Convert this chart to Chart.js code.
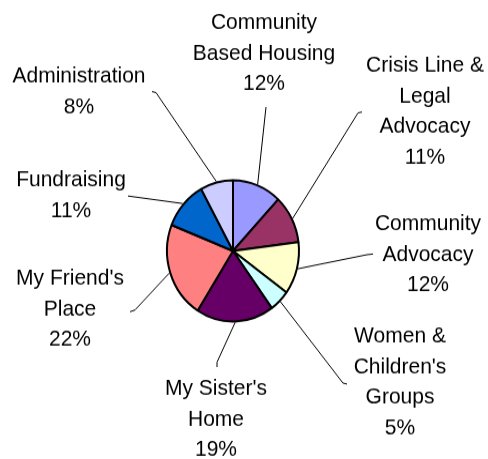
<!DOCTYPE html>
<html>
<head>
<meta charset="utf-8">
<script src="https://cdn.jsdelivr.net/npm/chart.js@4"></script>
<style>
  html, body { margin: 0; padding: 0; background: #fff; }
  #wrap { width: 488px; height: 459px; overflow: hidden; }
  #c { display: block; transform: scaleY(1.07); transform-origin: 0 0; }
</style>
</head>
<body>
<div id="wrap"><canvas id="c" width="488" height="429"></canvas></div>
<script>
// ---- data ----
const categories = [
  "Community Based Housing",
  "Crisis Line & Legal Advocacy",
  "Community Advocacy",
  "Women & Children's Groups",
  "My Sister's Home",
  "My Friend's Place",
  "Fundraising",
  "Administration"
];
const labelLines = [
  ["Community", "Based Housing"],
  ["Crisis Line &", "Legal", "Advocacy"],
  ["Community", "Advocacy"],
  ["Women &", "Children's", "Groups"],
  ["My Sister's", "Home"],
  ["My Friend's", "Place"],
  ["Fundraising"],
  ["Administration"]
];
const values = [12, 11, 12, 5, 19, 22, 11, 8];
const colors = ["#9999FF", "#993366", "#FFFFCC", "#CCFFFF", "#660066", "#FF8080", "#0066CC", "#CCCCFF"];

// ---- label layout (chart-space): text centre x, first baseline, leader-line end points ----
const labelLayout = [
  { x: 264, y: 27,  leader: [[266, 100]] },
  { x: 425, y: 67,  leader: [[358, 105.5], [362, 104.7]] },
  { x: 428, y: 215, leader: [[367, 238], [373, 237.4]] },
  { x: 400, y: 320, leader: [[343, 358], [347, 358.9]] },
  { x: 216, y: 369, leader: [[217, 338.5], [217, 343]] },
  { x: 70,  y: 266, leader: [[135, 289.7], [130, 291.3]] },
  { x: 71,  y: 174, leader: [[128, 183.2]] },
  { x: 79,  y: 77,  leader: [[156, 86.5], [152, 85.6]] }
];
const LINE_H = 28.5;
const FONT = '21px "Liberation Sans", Arial, Helvetica, sans-serif';

const labelPlugin = {
  id: 'outLabels',
  afterDatasetsDraw(chart) {
    const ctx = chart.ctx;
    const meta = chart.getDatasetMeta(0);
    const total = values.reduce((a, b) => a + b, 0);
    ctx.save();
    ctx.strokeStyle = '#000';
    ctx.lineWidth = 1;
    meta.data.forEach((arc, i) => {
      const p = arc.getProps(['x', 'y', 'startAngle', 'endAngle', 'outerRadius'], true);
      const mid = (p.startAngle + p.endAngle) / 2;
      const r = p.outerRadius + 1;
      const sx = p.x + Math.cos(mid) * r;
      const sy = p.y + Math.sin(mid) * r;
      const L = labelLayout[i];
      ctx.beginPath();
      ctx.moveTo(sx, sy);
      L.leader.forEach(pt => ctx.lineTo(pt[0], pt[1]));
      ctx.stroke();

      ctx.fillStyle = '#000';
      ctx.font = FONT;
      ctx.textAlign = 'center';
      ctx.textBaseline = 'alphabetic';
      const lines = labelLines[i].concat([Math.round(values[i] / total * 100) + '%']);
      lines.forEach((t, k) => ctx.fillText(t, L.x, L.y + k * LINE_H));
    });
    ctx.restore();
  }
};

new Chart(document.getElementById('c'), {
  type: 'pie',
  data: {
    labels: categories,
    datasets: [{
      data: values,
      backgroundColor: colors,
      borderColor: '#000',
      borderWidth: 2,
      radius: 66
    }]
  },
  options: {
    responsive: false,
    animation: false,
    devicePixelRatio: 1,
    layout: { padding: { top: 40, bottom: 0, left: 0, right: 22 } },
    plugins: {
      legend: { display: false },
      tooltip: { enabled: false }
    }
  },
  plugins: [labelPlugin]
});
</script>
</body>
</html>
